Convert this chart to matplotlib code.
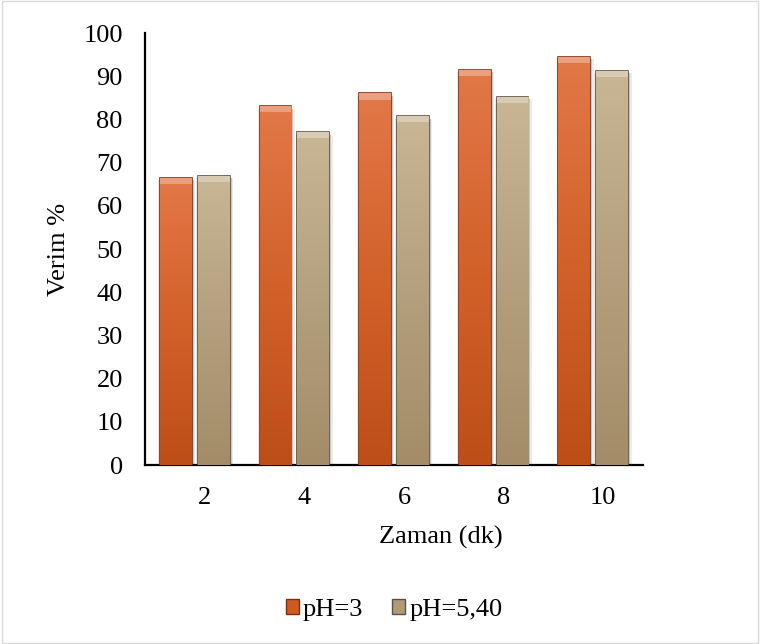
import matplotlib.pyplot as plt
import matplotlib.transforms as mtransforms
import numpy as np
from matplotlib.patches import Rectangle
from matplotlib.colors import LinearSegmentedColormap

plt.rcParams['font.family'] = ['Liberation Serif', 'DejaVu Serif']

zaman = ['2', '4', '6', '8', '10']
ph3 = [66.5, 83, 86, 91.5, 94.5]
ph540 = [67, 77, 80.7, 85.3, 91.3]

orange_cmap = LinearSegmentedColormap.from_list('o', ['#BE4E18', '#D2612A', '#E27848'])
tan_cmap = LinearSegmentedColormap.from_list('t', ['#A48C68', '#B4A07E', '#C8B694'])

fig = plt.figure(figsize=(7.6, 6.44), dpi=100)
ax = fig.add_axes([145 / 760, 1 - 465 / 644, 498 / 760, 432 / 644])

x = np.arange(len(zaman))
w = 0.32
off = 0.19


def fancy_bars(xs, vals, cmap, edge, label):
    bars = ax.bar(xs, vals, w, color=cmap(0.5), edgecolor=edge, linewidth=1.2,
                  label=label, zorder=3)
    grad = np.linspace(0, 1, 256).reshape(-1, 1)
    for b in bars:
        x0, h = b.get_x(), b.get_height()
        # soft shadow
        for k, a in [(0.035, 0.08), (0.02, 0.15)]:
            ax.add_patch(Rectangle((x0 - k / 2, 0), w + k * 1.5, h - 0.5, color='#000000',
                                   alpha=a, zorder=2, linewidth=0))
        im = ax.imshow(grad, extent=[x0, x0 + w, 0, h], origin='lower',
                       aspect='auto', cmap=cmap, zorder=3.5)
        im.set_clip_path(b)
        # top bevel
        ax.add_patch(Rectangle((x0, h - 1.4), w, 1.4, color='white', alpha=0.3,
                               zorder=4, linewidth=0))
    return bars


fancy_bars(x - off, ph3, orange_cmap, '#7A3010', 'pH=3')
fancy_bars(x + off, ph540, tan_cmap, '#5E5040', 'pH=5,40')

ax.set_xlim(-0.5, len(zaman) - 0.5)
ax.set_ylim(0, 100)
ax.set_yticks(range(0, 101, 10))
ax.set_xticks(x)
ax.set_xticklabels(zaman)
ax.tick_params(axis='both', length=0, labelsize=19)
ax.tick_params(axis='y', pad=16)
ax.tick_params(axis='x', pad=16)
shift = mtransforms.ScaledTranslation(10 / 100, 0, fig.dpi_scale_trans)
for lab in ax.get_xticklabels():
    lab.set_transform(lab.get_transform() + shift)
for s in ['top', 'right']:
    ax.spines[s].set_visible(False)
ax.spines['left'].set_linewidth(1.6)
ax.spines['bottom'].set_linewidth(1.6)

ax.set_ylabel('Verim %', fontsize=19)
ax.yaxis.set_label_coords(-0.15, 0.5)
ax.set_xlabel('Zaman (dk)', fontsize=19)
ax.xaxis.set_label_coords(0.594, -0.14)

h1 = Rectangle((0, 0), 1, 1, facecolor='#D05A22', edgecolor='#7A3010')
h2 = Rectangle((0, 0), 1, 1, facecolor='#B09A78', edgecolor='#5E5040')
fig.legend([h1, h2], ['pH=3', 'pH=5,40'], loc='center', bbox_to_anchor=(394 / 760, 1 - 610 / 644),
           ncol=2, frameon=False, fontsize=19, handlelength=0.5, handleheight=0.5,
           handletextpad=0.15, columnspacing=1.1)

fig.patches.append(Rectangle((0.002, 0.002), 0.996, 0.996, transform=fig.transFigure,
                             fill=False, edgecolor='#D9D9D9', linewidth=1))

plt.savefig('out.png', dpi=100)
